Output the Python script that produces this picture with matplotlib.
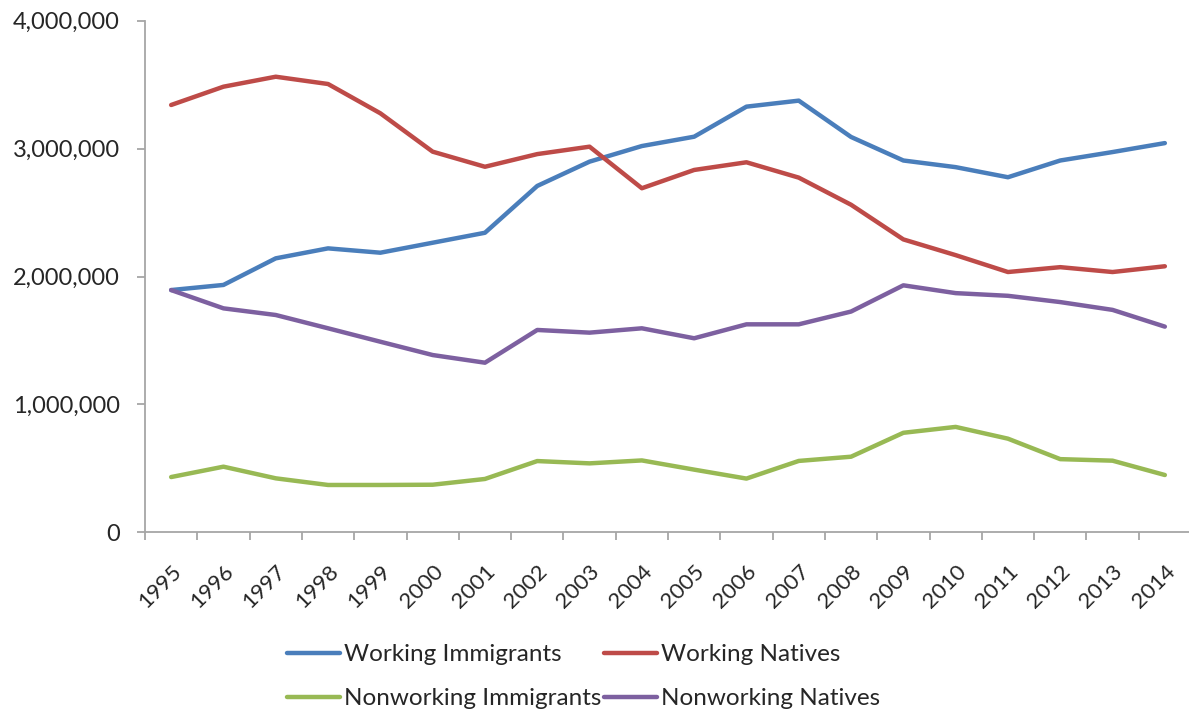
import matplotlib
matplotlib.use("Agg")
import matplotlib.pyplot as plt
from matplotlib.ticker import FuncFormatter, FixedLocator

years = [str(y) for y in range(1995, 2015)]

working_immigrants = [1894000, 1934000, 2142000, 2220000, 2186000, 2264000, 2342000,
                      2708000, 2898000, 3020000, 3093000, 3328000, 3375000, 3091000,
                      2907000, 2855000, 2776000, 2907000, 2973000, 3043000]
working_natives = [3341000, 3484000, 3562000, 3505000, 3276000, 2976000, 2858000,
                   2957000, 3015000, 2690000, 2833000, 2893000, 2773000, 2561000,
                   2290000, 2167000, 2035000, 2073000, 2035000, 2080000]
nonworking_immigrants = [432000, 513000, 422000, 370000, 370000, 372000, 417000,
                         557000, 539000, 562000, 490000, 420000, 558000, 591000,
                         778000, 824000, 732000, 572000, 560000, 448000]
nonworking_natives = [1894000, 1751000, 1699000, 1595000, 1490000, 1386000, 1326000,
                      1582000, 1561000, 1595000, 1517000, 1626000, 1626000, 1726000,
                      1931000, 1870000, 1849000, 1800000, 1739000, 1608000]

series = [
    ("Working Immigrants", working_immigrants, "#4A7EBB"),
    ("Working Natives", working_natives, "#BE4B48"),
    ("Nonworking Immigrants", nonworking_immigrants, "#98B954"),
    ("Nonworking Natives", nonworking_natives, "#7D60A0"),
]

plt.rcParams["font.family"] = ["Lato", "DejaVu Sans"]
text_color = "#262626"
axis_color = "#A6A6A6"

fig = plt.figure(figsize=(11.89, 7.11), dpi=100)
W, H = 1189, 711
x0, x1 = 145, 1191
y_bot, y_top = 532.3, 20.7
ax = fig.add_axes([x0 / W, (H - y_bot) / H, (x1 - x0) / W, (y_bot - y_top) / H])

xs = list(range(len(years)))
lines = {}
for name, vals, color in series:
    ln, = ax.plot(xs, vals, color=color, lw=3.2, solid_joinstyle="round",
                  solid_capstyle="round", label=name)
    lines[name] = ln

ax.set_xlim(-0.5, len(years) - 0.5)
ax.set_ylim(0, 4000000)
ax.set_yticks([0, 1000000, 2000000, 3000000, 4000000])
ax.yaxis.set_major_formatter(FuncFormatter(lambda v, p: f"{int(v):,}"))

# category labels centred, tick marks on the boundaries between categories
ax.set_xticks(xs)
ax.set_xticklabels(years, rotation=45, ha="right", rotation_mode="anchor")
ax.xaxis.set_minor_locator(FixedLocator([i - 0.5 for i in range(len(years) + 1)]))
ax.tick_params(axis="x", which="major", length=0, pad=21, labelsize=16,
               labelcolor=text_color)
ax.tick_params(axis="x", which="minor", length=6, width=1.3, color=axis_color)
ax.tick_params(axis="y", length=6, width=1.3, color=axis_color, pad=12,
               labelsize=17, labelcolor=text_color)

for side in ("top", "right"):
    ax.spines[side].set_visible(False)
for side in ("left", "bottom"):
    ax.spines[side].set_color(axis_color)
    ax.spines[side].set_linewidth(1.3)

# two rows: working series on top, nonworking below
order = ["Working Immigrants", "Nonworking Immigrants",
         "Working Natives", "Nonworking Natives"]
fig.legend(handles=[lines[n] for n in order], loc="upper left",
           bbox_to_anchor=(287 / W, 1 - 644 / H),
           ncol=2, frameon=False, fontsize=17.5, handlelength=2.2,
           handletextpad=0.15, columnspacing=0.1, labelspacing=0.95,
           borderpad=0, borderaxespad=0, labelcolor=text_color)

fig.savefig("out.png", dpi=100)
